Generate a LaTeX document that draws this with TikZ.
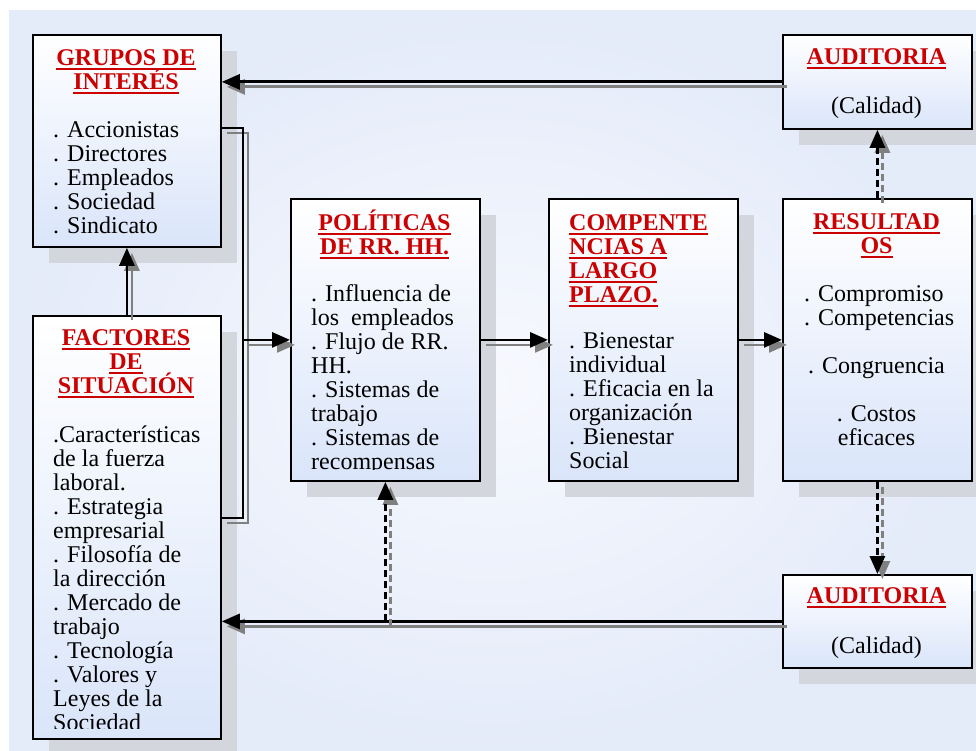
\documentclass[tikz,border=0pt]{standalone}
\usepackage{fontspec}
\setmainfont{Liberation Serif}
\usetikzlibrary{arrows.meta,calc}

\definecolor{bgouter}{RGB}{228,235,249}
\definecolor{bginner}{RGB}{247,249,254}
\definecolor{boxbot}{RGB}{218,229,250}
\definecolor{shade}{RGB}{212,214,221}
\definecolor{titlered}{RGB}{204,0,0}
\definecolor{echo}{RGB}{128,128,128}

% underlined title line
\newsavebox\ttlbox
\newcommand\redul[1]{\sbox\ttlbox{#1}\rlap{\rule[-5pt]{\wd\ttlbox}{2.5pt}}\usebox\ttlbox}
% fixes the height of the first line of a text block
\newcommand\firststrut{\rule{0pt}{23pt}}
% a connector with its grey offset copy underneath
\newcommand\twinline[2][]{%
  \draw[#1, draw=echo, transform canvas={shift={(5pt,-5pt)}}] #2;
  \draw[#1] #2;}

\tikzset{
  panel/.style={draw=black, line width=1.8pt, top color=white, bottom color=boxbot,
    inner sep=0pt, anchor=north west,
    preaction={fill=shade, transform canvas={shift={(16pt,-16pt)}}}},
  body/.style={inner sep=0pt, text=black,
    font=\fontsize{24}{24}\selectfont},
  ttl/.style={inner sep=0pt, text=titlered,
    font=\fontsize{24}{24}\selectfont\bfseries},
  wire/.style={line width=2.8pt},
  link/.style={line width=2.8pt, -{Triangle[length=18pt,width=15pt]}},
  dlink/.style={line width=3pt, dash pattern=on 7pt off 4pt,
    -{Triangle[length=18pt,width=15pt]}},
}

\begin{document}
\lineskiplimit=-50pt
\begin{tikzpicture}[x=1pt,y=-1pt]
\useasboundingbox (0,0) rectangle (976,751);
\fill[white] (0,0) rectangle (976,751);
\shade[inner color=bginner, outer color=bgouter] (9,11) rectangle (976,751);

% boxes
\node[panel, minimum width=188pt, minimum height=212pt] (grupos) at (32,34) {};
\node[panel, minimum width=188pt, minimum height=423pt] (factores) at (32,315) {};
\node[panel, minimum width=189pt, minimum height=282pt] (polit) at (290,198) {};
\node[panel, minimum width=189pt, minimum height=282pt] (compet) at (548,198) {};
\node[panel, minimum width=189pt, minimum height=282pt] (result) at (782,198) {};
\node[panel, minimum width=189pt, minimum height=94pt] (aud1) at (782,34) {};
\node[panel, minimum width=189pt, minimum height=93pt] (aud2) at (782,574) {};

% texts
\node[ttl, anchor=north, align=center] (grupos-t) at (126,42)
  {\firststrut\redul{GRUPOS DE}\\\redul{INTERÉS}};
\node[body, anchor=north west, align=left] (grupos-b) at (53,114)
  {\firststrut. Accionistas\\. Directores\\. Empleados\\. Sociedad\\. Sindicato};

\node[ttl, anchor=north, align=center] (factores-t) at (126,322)
  {\firststrut\redul{FACTORES}\\\redul{DE}\\\redul{SITUACIÓN}};
\begin{scope}
  \clip (factores.north west) rectangle ($(factores.south east)+(0,-11)$);
  \node[body, anchor=north west, align=left] (factores-b) at (53,419)
    {\firststrut.Características\\de la fuerza\\laboral.\\. Estrategia\\empresarial\\%
     . Filosofía de\\la dirección\\. Mercado de\\trabajo\\. Tecnología\\. Valores y\\%
     Leyes de la\\Sociedad};
\end{scope}

\node[ttl, anchor=north, align=center] (polit-t) at (384.5,207)
  {\firststrut\redul{POLÍTICAS}\\\redul{DE RR. HH.}};
\begin{scope}
  \clip (polit.north west) rectangle ($(polit.south east)+(0,-12)$);
  \node[body, anchor=north west, align=left] (polit-b) at (311,278)
    {\firststrut. Influencia de\\los~~empleados\\. Flujo de RR.\\HH.\\. Sistemas de\\%
     trabajo\\. Sistemas de\\recompensas};
\end{scope}

\node[ttl, anchor=north west, align=left] (compet-t) at (569,207)
  {\firststrut\redul{COMPENTE}\\\redul{NCIAS A}\\\redul{LARGO}\\\redul{PLAZO.}};
\node[body, anchor=north west, align=left] (compet-b) at (569,325)
  {\firststrut. Bienestar\\individual\\. Eficacia en la\\organización\\. Bienestar\\Social};

\node[ttl, anchor=north, align=center] (result-t) at (876.5,206)
  {\firststrut\redul{RESULTAD}\\\redul{OS}};
\node[body, anchor=north west, align=left] (result-a) at (804,278)
  {\firststrut. Compromiso\\. Competencias};
\node[body, anchor=north, align=center] (result-b) at (876.5,350)
  {\firststrut. Congruencia\\[24pt]. Costos\\eficaces};

\node[ttl, anchor=north] (aud1-t) at (876.5,41) {\firststrut\redul{AUDITORIA}};
\node[body, anchor=north] (aud1-b) at (876.5,90) {\firststrut(Calidad)};
\node[ttl, anchor=north] (aud2-t) at (876.5,580) {\firststrut\redul{AUDITORIA}};
\node[body, anchor=north] (aud2-b) at (876.5,630) {\firststrut(Calidad)};

% connectors
\coordinate (gA) at ($(grupos.north east)+(0,94)$);
\coordinate (fA) at ($(factores.north east)+(0,203)$);
\coordinate (hub) at ($(polit.west)+(-47,0)$);
\coordinate (tap) at (aud2.west -| polit.south);

\twinline[link]{(aud1.west) -- (aud1.west -| grupos.east)}
\twinline[link]{(factores.north) -- (grupos.south)}
\twinline[wire]{(gA) -| (hub) |- (fA)}
\twinline[link]{(hub) -- (polit.west)}
\twinline[link]{(polit.east) -- (compet.west)}
\twinline[link]{(compet.east) -- (result.west)}
\twinline[dlink]{(result.north) -- (aud1.south)}
\twinline[dlink]{(result.south) -- (aud2.north)}
\twinline[link]{(aud2.west) -- (aud2.west -| factores.east)}
\twinline[dlink]{(tap) -- (polit.south)}
\end{tikzpicture}
\end{document}
